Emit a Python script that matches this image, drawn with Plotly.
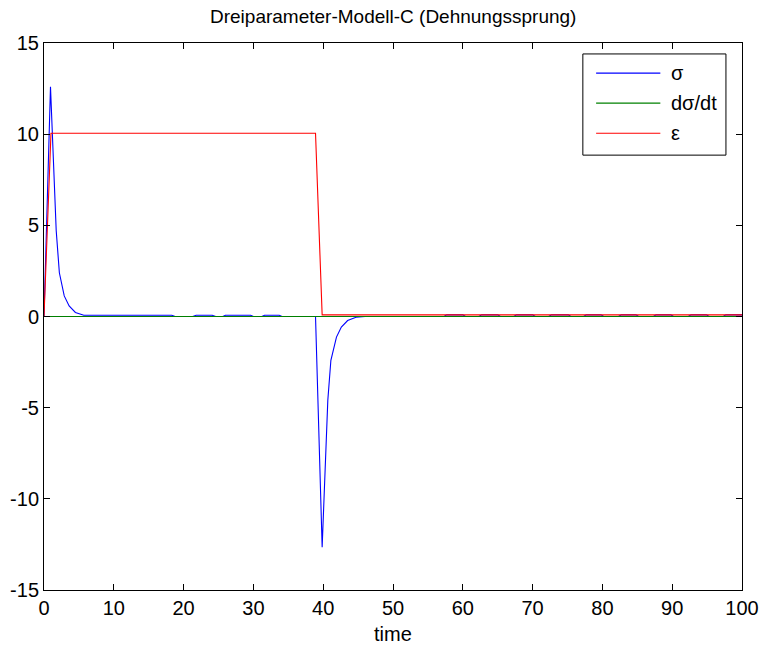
import plotly.graph_objects as go

# Simulation output of the three-parameter model under a strain step
t_sigma = [0, 0.93, 1.75, 2.2, 2.9, 3.6, 4.5, 5.7, 6.5, 18.3, 18.8, 21.3, 21.8, 24.1,
           24.6, 25.6, 26.0, 29.6, 30.0, 31.2, 31.6, 33.7, 34.1, 38.9, 39.85, 40.66,
           41.1, 41.9, 42.6, 43.5, 44.7, 46.0, 57.3, 57.7, 60.0, 60.4, 62.3, 62.7,
           65.0, 65.4, 67.3, 67.7, 70.0, 70.4, 72.3, 72.7, 75.1, 75.5, 77.3, 77.7,
           79.8, 80.2, 82.3, 82.7, 84.8, 85.2, 87.3, 87.7, 89.8, 90.2, 92.3, 92.7,
           94.9, 95.3, 97.3, 97.7, 100]
sigma = [0, 12.6, 4.7, 2.4, 1.13, 0.58, 0.22, 0.07, 0.07, 0.07, 0, 0, 0.07, 0.07,
         0, 0, 0.07, 0.07, 0, 0, 0.07, 0.07, 0, 0, -12.65, -4.6,
         -2.4, -1.13, -0.58, -0.22, -0.04, 0, 0, 0.09, 0.09, 0, 0, 0.09,
         0.09, 0, 0, 0.09, 0.09, 0, 0, 0.09, 0.09, 0, 0, 0.09,
         0.09, 0, 0, 0.09, 0.09, 0, 0, 0.09, 0.09, 0, 0, 0.09,
         0.09, 0, 0, 0.09, 0.09]

t_dsigma = [0, 100]
dsigma = [0, 0]

t_eps = [0, 1.0, 38.9, 39.85, 100]
eps = [0, 10.05, 10.05, 0.09, 0.09]

x_ticks = [0, 10, 20, 30, 40, 50, 60, 70, 80, 90, 100]
x_labels = ["0", "10", "20", "30", "40", "50", "60", "70", "80", "90", "100"]
y_ticks = [-15, -10, -5, 0, 5, 10, 15]
y_labels = ["-15", "-10", "-5", "0", "5", "10", "15"]

series_names = ["σ", "dσ/dt", "ε"]
series_colors = ["#0000ff", "#008000", "#ff0000"]

FONT = "Liberation Sans, Arial, sans-serif"

fig = go.Figure()
for (tx, ty), name, color in zip([(t_sigma, sigma), (t_dsigma, dsigma), (t_eps, eps)],
                                 series_names, series_colors):
    fig.add_trace(go.Scatter(x=tx, y=ty, mode="lines", name=name,
                             line=dict(color=color, width=1.1), showlegend=False))

axis_common = dict(showgrid=False, zeroline=False, showline=True, linecolor="black",
                   linewidth=1, mirror="allticks", ticks="inside", ticklen=6,
                   tickcolor="black", tickwidth=1, automargin=False,
                   tickfont=dict(family=FONT, size=20, color="black"))

fig.update_xaxes(range=[0, 100], tickvals=x_ticks, ticktext=x_labels, **axis_common)
fig.update_yaxes(range=[-15, 15], tickvals=y_ticks, ticktext=y_labels, **axis_common)

# Legend box drawn in plot-area coordinates
shapes = [dict(type="rect", xref="paper", yref="paper", x0=0.772, x1=0.977,
               y0=0.795, y1=0.980, line=dict(color="black", width=1),
               fillcolor="white", layer="above")]
annotations = []
rows_y = [0.945, 0.890, 0.835]
for name, color, yy in zip(series_names, series_colors, rows_y):
    shapes.append(dict(type="line", xref="paper", yref="paper", x0=0.791, x1=0.883,
                       y0=yy, y1=yy, line=dict(color=color, width=1.1), layer="above"))
    annotations.append(dict(text=name, xref="paper", yref="paper", x=0.895, y=yy,
                            xanchor="left", yanchor="middle", showarrow=False,
                            font=dict(family=FONT, size=20, color="black")))

annotations.append(dict(text="Dreiparameter-Modell-C (Dehnungssprung)", xref="paper",
                        yref="paper", x=0.5, y=1.0 + 26 / 547, xanchor="center",
                        yanchor="middle", showarrow=False,
                        font=dict(family=FONT, size=19, color="black")))
annotations.append(dict(text="time", xref="paper", yref="paper", x=0.5,
                        y=-44 / 547, xanchor="center", yanchor="middle",
                        showarrow=False, font=dict(family=FONT, size=20, color="black")))

fig.update_layout(width=763, height=646, margin=dict(l=44, r=21, t=43, b=56),
                  paper_bgcolor="white", plot_bgcolor="white",
                  shapes=shapes, annotations=annotations, showlegend=False)

fig.write_html("out.html")
